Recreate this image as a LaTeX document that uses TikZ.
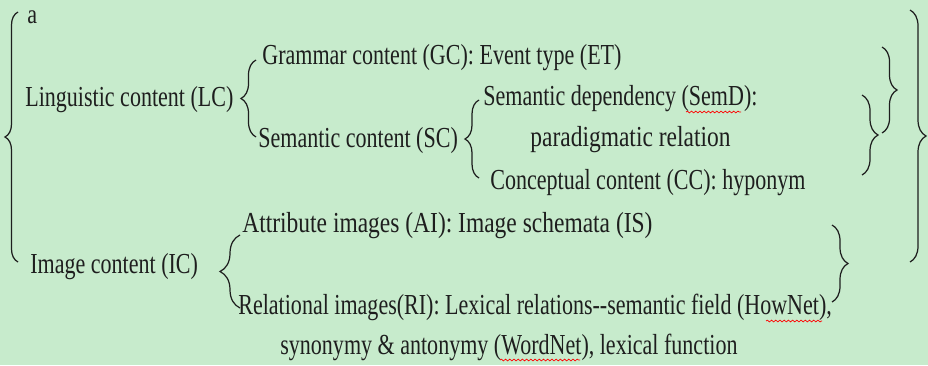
\documentclass[tikz,border=0pt]{standalone}
\usepackage{fontspec}
\setmainfont{Liberation Serif}[FakeStretch=0.76]
\newfontfamily\widerm{Liberation Serif}[FakeStretch=0.81]
\usetikzlibrary{decorations.pathreplacing,decorations.pathmorphing}
\definecolor{leaf}{RGB}{199,235,204}
\definecolor{ink}{RGB}{30,30,30}
\begin{document}
\begin{tikzpicture}[x=0.02cm,y=-0.02cm,
  txt/.style={anchor=base west,inner sep=0pt,text=ink,font=\fontsize{16.5}{20}\selectfont},
  wtxt/.style={txt,font=\fontsize{16.5}{20}\widerm},
  brc/.style={draw=ink,line width=0.7pt,decorate,decoration={brace,amplitude=#1}},
  squig/.style={draw=red,line width=0.4pt,decorate,decoration={snake,amplitude=0.5pt,segment length=2.4pt}}]
\fill[leaf] (0,0) rectangle (928,365);
\useasboundingbox (0,0) rectangle (928,365);
\node[txt,font=\fontsize{15.5}{18}\widerm] (a) at (27,23) {a};
\node[txt] (lc) at (25,106) {Linguistic content (LC)};
\node[txt] (gc) at (262,64) {Grammar content (GC): Event type (ET)};
\node[txt] (sc) at (258,147) {Semantic content (SC)};
\node[txt] (semd) at (483,105) {Semantic dependency (SemD):};
\node[wtxt] (para) at (530,146) {paradigmatic relation};
\node[txt] (cc) at (490,189) {Conceptual content (CC): hyponym};
\node[txt] (ic) at (30,273) {Image content (IC)};
\node[wtxt] (ai) at (242,232) {Attribute images (AI): Image schemata (IS)};
\node[txt] (ri) at (238,314) {Relational images(RI): Lexical relations-{}-semantic field (HowNet),};
\node[txt] (syn) at (280,354) {synonymy \& antonymy (WordNet), lexical function};
%left braces
\draw[brc=0.26cm] (18,262)--(18,12);
\draw[brc=0.3cm] (256,137)--(256,60);
\draw[brc=0.28cm] (479,178)--(479,100);
\draw[brc=0.4cm] (240,308)--(240,235);
%right braces
\draw[brc=0.32cm] (910,10)--(910,262);
\draw[brc=0.3cm] (882,47)--(882,133);
\draw[brc=0.32cm] (862,95)--(862,175);
\draw[brc=0.32cm] (832,225)--(832,302);
%spell marks
\draw[squig] (686,112)--(741,112);
\draw[squig] (766,321)--(822,321);
\draw[squig] (500,360)--(580,360);
\end{tikzpicture}
\end{document}
